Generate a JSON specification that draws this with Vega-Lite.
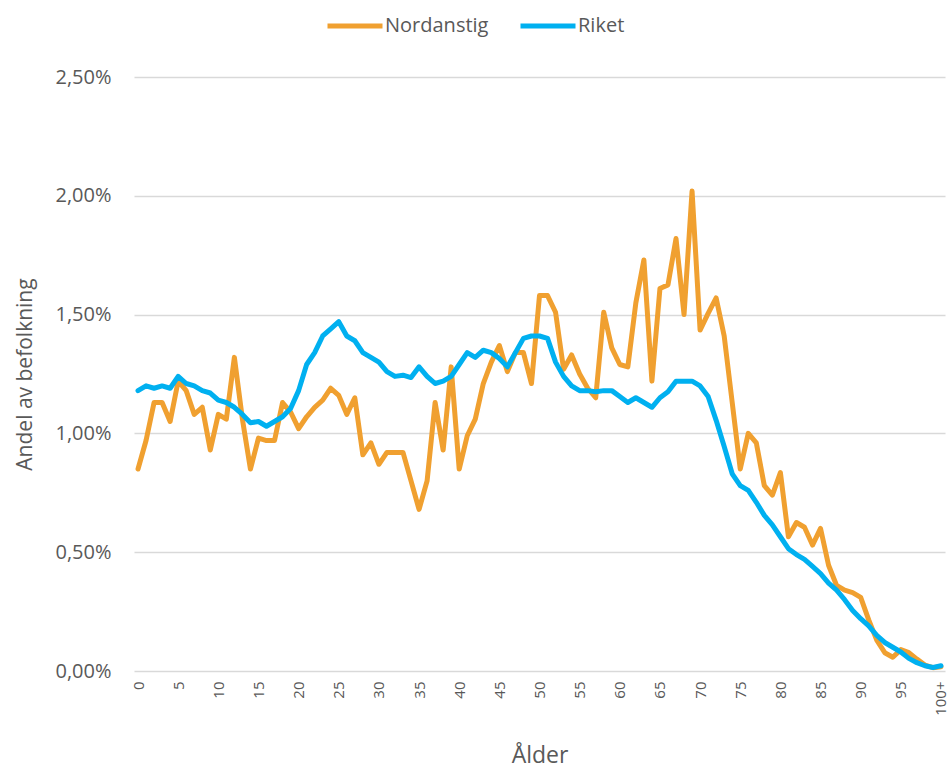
{
  "$schema": "https://vega.github.io/schema/vega-lite/v6.json",
  "width": 811,
  "height": 594,
  "autosize": {"type": "none"},
  "padding": {"left": 134, "top": 77, "right": 6, "bottom": 98},
  "background": "white",
  "config": {"view": {"stroke": null}, "font": "Open Sans"},
  "data": {"values": [
    {"alder": 0, "Nordanstig": 0.85, "Riket": 1.18},
    {"alder": 1, "Nordanstig": 0.97, "Riket": 1.20},
    {"alder": 2, "Nordanstig": 1.13, "Riket": 1.19},
    {"alder": 3, "Nordanstig": 1.13, "Riket": 1.20},
    {"alder": 4, "Nordanstig": 1.05, "Riket": 1.19},
    {"alder": 5, "Nordanstig": 1.22, "Riket": 1.24},
    {"alder": 6, "Nordanstig": 1.18, "Riket": 1.21},
    {"alder": 7, "Nordanstig": 1.08, "Riket": 1.20},
    {"alder": 8, "Nordanstig": 1.11, "Riket": 1.18},
    {"alder": 9, "Nordanstig": 0.93, "Riket": 1.17},
    {"alder": 10, "Nordanstig": 1.08, "Riket": 1.14},
    {"alder": 11, "Nordanstig": 1.06, "Riket": 1.13},
    {"alder": 12, "Nordanstig": 1.32, "Riket": 1.11},
    {"alder": 13, "Nordanstig": 1.06, "Riket": 1.08},
    {"alder": 14, "Nordanstig": 0.85, "Riket": 1.045},
    {"alder": 15, "Nordanstig": 0.98, "Riket": 1.05},
    {"alder": 16, "Nordanstig": 0.97, "Riket": 1.03},
    {"alder": 17, "Nordanstig": 0.97, "Riket": 1.05},
    {"alder": 18, "Nordanstig": 1.13, "Riket": 1.07},
    {"alder": 19, "Nordanstig": 1.09, "Riket": 1.105},
    {"alder": 20, "Nordanstig": 1.02, "Riket": 1.18},
    {"alder": 21, "Nordanstig": 1.07, "Riket": 1.29},
    {"alder": 22, "Nordanstig": 1.11, "Riket": 1.34},
    {"alder": 23, "Nordanstig": 1.14, "Riket": 1.41},
    {"alder": 24, "Nordanstig": 1.19, "Riket": 1.44},
    {"alder": 25, "Nordanstig": 1.16, "Riket": 1.47},
    {"alder": 26, "Nordanstig": 1.08, "Riket": 1.41},
    {"alder": 27, "Nordanstig": 1.15, "Riket": 1.39},
    {"alder": 28, "Nordanstig": 0.91, "Riket": 1.34},
    {"alder": 29, "Nordanstig": 0.96, "Riket": 1.32},
    {"alder": 30, "Nordanstig": 0.87, "Riket": 1.30},
    {"alder": 31, "Nordanstig": 0.92, "Riket": 1.26},
    {"alder": 32, "Nordanstig": 0.92, "Riket": 1.24},
    {"alder": 33, "Nordanstig": 0.92, "Riket": 1.245},
    {"alder": 34, "Nordanstig": 0.80, "Riket": 1.235},
    {"alder": 35, "Nordanstig": 0.68, "Riket": 1.28},
    {"alder": 36, "Nordanstig": 0.80, "Riket": 1.24},
    {"alder": 37, "Nordanstig": 1.13, "Riket": 1.21},
    {"alder": 38, "Nordanstig": 0.93, "Riket": 1.22},
    {"alder": 39, "Nordanstig": 1.28, "Riket": 1.24},
    {"alder": 40, "Nordanstig": 0.85, "Riket": 1.29},
    {"alder": 41, "Nordanstig": 0.99, "Riket": 1.34},
    {"alder": 42, "Nordanstig": 1.06, "Riket": 1.32},
    {"alder": 43, "Nordanstig": 1.21, "Riket": 1.35},
    {"alder": 44, "Nordanstig": 1.30, "Riket": 1.34},
    {"alder": 45, "Nordanstig": 1.37, "Riket": 1.315},
    {"alder": 46, "Nordanstig": 1.26, "Riket": 1.28},
    {"alder": 47, "Nordanstig": 1.34, "Riket": 1.34},
    {"alder": 48, "Nordanstig": 1.34, "Riket": 1.40},
    {"alder": 49, "Nordanstig": 1.21, "Riket": 1.41},
    {"alder": 50, "Nordanstig": 1.58, "Riket": 1.41},
    {"alder": 51, "Nordanstig": 1.58, "Riket": 1.40},
    {"alder": 52, "Nordanstig": 1.51, "Riket": 1.30},
    {"alder": 53, "Nordanstig": 1.27, "Riket": 1.24},
    {"alder": 54, "Nordanstig": 1.33, "Riket": 1.20},
    {"alder": 55, "Nordanstig": 1.25, "Riket": 1.18},
    {"alder": 56, "Nordanstig": 1.19, "Riket": 1.18},
    {"alder": 57, "Nordanstig": 1.15, "Riket": 1.175},
    {"alder": 58, "Nordanstig": 1.51, "Riket": 1.18},
    {"alder": 59, "Nordanstig": 1.36, "Riket": 1.18},
    {"alder": 60, "Nordanstig": 1.29, "Riket": 1.155},
    {"alder": 61, "Nordanstig": 1.28, "Riket": 1.13},
    {"alder": 62, "Nordanstig": 1.55, "Riket": 1.15},
    {"alder": 63, "Nordanstig": 1.73, "Riket": 1.13},
    {"alder": 64, "Nordanstig": 1.22, "Riket": 1.11},
    {"alder": 65, "Nordanstig": 1.61, "Riket": 1.15},
    {"alder": 66, "Nordanstig": 1.625, "Riket": 1.175},
    {"alder": 67, "Nordanstig": 1.82, "Riket": 1.22},
    {"alder": 68, "Nordanstig": 1.50, "Riket": 1.22},
    {"alder": 69, "Nordanstig": 2.02, "Riket": 1.22},
    {"alder": 70, "Nordanstig": 1.435, "Riket": 1.20},
    {"alder": 71, "Nordanstig": 1.505, "Riket": 1.155},
    {"alder": 72, "Nordanstig": 1.57, "Riket": 1.055},
    {"alder": 73, "Nordanstig": 1.41, "Riket": 0.945},
    {"alder": 74, "Nordanstig": 1.13, "Riket": 0.83},
    {"alder": 75, "Nordanstig": 0.85, "Riket": 0.78},
    {"alder": 76, "Nordanstig": 1.00, "Riket": 0.76},
    {"alder": 77, "Nordanstig": 0.96, "Riket": 0.71},
    {"alder": 78, "Nordanstig": 0.78, "Riket": 0.655},
    {"alder": 79, "Nordanstig": 0.74, "Riket": 0.615},
    {"alder": 80, "Nordanstig": 0.835, "Riket": 0.565},
    {"alder": 81, "Nordanstig": 0.565, "Riket": 0.515},
    {"alder": 82, "Nordanstig": 0.625, "Riket": 0.49},
    {"alder": 83, "Nordanstig": 0.605, "Riket": 0.47},
    {"alder": 84, "Nordanstig": 0.53, "Riket": 0.44},
    {"alder": 85, "Nordanstig": 0.60, "Riket": 0.41},
    {"alder": 86, "Nordanstig": 0.445, "Riket": 0.37},
    {"alder": 87, "Nordanstig": 0.36, "Riket": 0.34},
    {"alder": 88, "Nordanstig": 0.34, "Riket": 0.30},
    {"alder": 89, "Nordanstig": 0.33, "Riket": 0.255},
    {"alder": 90, "Nordanstig": 0.31, "Riket": 0.22},
    {"alder": 91, "Nordanstig": 0.215, "Riket": 0.19},
    {"alder": 92, "Nordanstig": 0.13, "Riket": 0.15},
    {"alder": 93, "Nordanstig": 0.077, "Riket": 0.12},
    {"alder": 94, "Nordanstig": 0.058, "Riket": 0.10},
    {"alder": 95, "Nordanstig": 0.09, "Riket": 0.08},
    {"alder": 96, "Nordanstig": 0.077, "Riket": 0.053},
    {"alder": 97, "Nordanstig": 0.05, "Riket": 0.035},
    {"alder": 98, "Nordanstig": 0.025, "Riket": 0.022},
    {"alder": 99, "Nordanstig": 0.014, "Riket": 0.015},
    {"alder": 100, "Nordanstig": 0.018, "Riket": 0.022}
  ]},
  "transform": [{"fold": ["Nordanstig", "Riket"], "as": ["serie", "andel"]}],
  "mark": {"type": "line", "strokeWidth": 5, "strokeJoin": "round", "strokeCap": "round"},
  "encoding": {
    "x": {
      "field": "alder",
      "type": "ordinal",
      "scale": {"type": "point", "padding": 0.5},
      "axis": {
        "title": "Ålder",
        "values": [0, 5, 10, 15, 20, 25, 30, 35, 40, 45, 50, 55, 60, 65, 70, 75, 80, 85, 90, 95, 100],
        "labelExpr": "datum.value == 100 ? '100+' : datum.label",
        "labelAngle": -90,
        "ticks": false,
        "domain": false,
        "grid": false,
        "labelFontSize": 15,
        "labelColor": "#595959",
        "labelPadding": 10,
        "titleFontSize": 23,
        "titleColor": "#595959",
        "titleFontWeight": "normal",
        "titleY": 84,
        "titleBaseline": "middle"
      }
    },
    "y": {
      "field": "andel",
      "type": "quantitative",
      "scale": {"domain": [0, 2.5], "nice": false},
      "axis": {
        "title": "Andel av befolkning",
        "values": [0, 0.5, 1, 1.5, 2, 2.5],
        "labelExpr": "replace(format(datum.value, '.2f'), '.', ',') + '%'",
        "domain": false,
        "ticks": false,
        "gridColor": "#d9d9d9",
        "gridWidth": 1.5,
        "labelPadding": 23,
        "labelFontSize": 20,
        "labelColor": "#595959",
        "titleFontSize": 21,
        "titleColor": "#595959",
        "titleFontWeight": "normal",
        "titleX": -109,
        "titleY": 297,
        "titleAngle": -90,
        "titleBaseline": "middle",
        "titleAlign": "center"
      }
    },
    "color": {
      "field": "serie",
      "type": "nominal",
      "scale": {"domain": ["Nordanstig", "Riket"], "range": ["#F0A030", "#00B0F0"]},
      "legend": {
        "title": null,
        "orient": "none",
        "legendX": 191,
        "legendY": -81,
        "direction": "horizontal",
        "symbolType": "stroke",
        "symbolSize": 3025,
        "symbolStrokeWidth": 5,
        "labelFontSize": 20,
        "labelColor": "#595959",
        "columnPadding": 21,
        "labelOffset": 0
      }
    }
  }
}
